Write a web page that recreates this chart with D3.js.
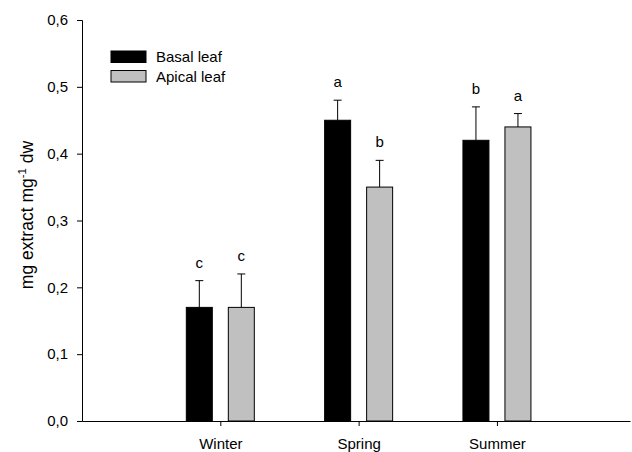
<!DOCTYPE html>
<html>
<head>
<meta charset="utf-8">
<script src="https://cdn.jsdelivr.net/npm/d3@7"></script>
<style>
  body { margin: 0; background: #fff; }
  svg text { font-family: Arial, "Liberation Sans", sans-serif; }
</style>
</head>
<body>
<svg id="chart" width="632" height="452"></svg>
<script>
// ---- data ----
const categories = ["Winter", "Spring", "Summer"];
const seriesNames = ["Basal leaf", "Apical leaf"];
const basalValues = [0.17, 0.45, 0.42];
const basalErrors = [0.04, 0.03, 0.05];
const basalLetters = ["c", "a", "b"];
const apicalValues = [0.17, 0.35, 0.44];
const apicalErrors = [0.05, 0.04, 0.02];
const apicalLetters = ["c", "b", "a"];
const yTicks = [0, 0.1, 0.2, 0.3, 0.4, 0.5, 0.6];

const svg = d3.select("#chart");
const fontSize = 15;

// scales
const x = d3.scaleLinear().domain([0, 3.962]).range([82, 630]);
const y = d3.scaleLinear().domain([0, 0.6]).range([421, 20]);

const series = [
  { name: seriesNames[0], values: basalValues, errors: basalErrors, letters: basalLetters, fill: "#000000", offset: -21 },
  { name: seriesNames[1], values: apicalValues, errors: apicalErrors, letters: apicalLetters, fill: "#c0c0c0", offset: 21 }
];
const barW = 26;

// bars, error bars, letters
series.forEach(s => {
  const g = svg.append("g");
  const data = categories.map((c, i) => ({ i, v: s.values[i], e: s.errors[i], l: s.letters[i] }));
  g.selectAll("line.err").data(data).join("line")
    .attr("x1", d => x(d.i + 1) + s.offset).attr("x2", d => x(d.i + 1) + s.offset)
    .attr("y1", d => y(d.v)).attr("y2", d => y(d.v + d.e))
    .attr("stroke", "#000").attr("stroke-width", 1);
  g.selectAll("line.cap").data(data).join("line")
    .attr("x1", d => x(d.i + 1) + s.offset - 4).attr("x2", d => x(d.i + 1) + s.offset + 4)
    .attr("y1", d => y(d.v + d.e)).attr("y2", d => y(d.v + d.e))
    .attr("stroke", "#000").attr("stroke-width", 1);
  g.selectAll("rect").data(data).join("rect")
    .attr("x", d => x(d.i + 1) + s.offset - barW / 2)
    .attr("y", d => y(d.v))
    .attr("width", barW)
    .attr("height", d => y(0) - y(d.v))
    .attr("fill", s.fill)
    .attr("stroke", "#000").attr("stroke-width", 1);
  g.selectAll("text").data(data).join("text")
    .attr("x", d => x(d.i + 1) + s.offset)
    .attr("y", d => y(d.v + d.e) - 13)
    .attr("text-anchor", "middle")
    .attr("font-size", fontSize)
    .text(d => d.l);
});

// y axis
const yAxis = svg.append("g")
  .attr("transform", "translate(82,0)")
  .call(d3.axisLeft(y).tickValues(yTicks).tickSize(5).tickPadding(9)
    .tickFormat(d => d3.format(".1f")(d).replace(".", ",")));
yAxis.selectAll("text").attr("font-size", fontSize).attr("fill", "#000")
  .style("font-family", "Arial, 'Liberation Sans', sans-serif");
yAxis.selectAll("path, line").attr("stroke", "#000");

// x axis
const xAxis = svg.append("g")
  .attr("transform", "translate(0,421)")
  .call(d3.axisBottom(x).tickValues([1, 2, 3]).tickSize(5).tickSizeOuter(0).tickPadding(12)
    .tickFormat(d => categories[d - 1]));
xAxis.selectAll("text").attr("font-size", fontSize).attr("fill", "#000")
  .style("font-family", "Arial, 'Liberation Sans', sans-serif");
xAxis.selectAll("path, line").attr("stroke", "#000");

// y axis title
const title = svg.append("text")
  .attr("transform", "translate(33,215) rotate(-90)")
  .attr("text-anchor", "middle")
  .attr("font-size", 17.5);
title.append("tspan").text("mg extract mg");
title.append("tspan").attr("font-size", 11.5).attr("dy", -7).text("-1");
title.append("tspan").attr("dy", 7).text(" dw");

// legend
const legend = svg.append("g");
series.forEach((s, i) => {
  legend.append("rect")
    .attr("x", 111).attr("y", 51 + i * 19.5)
    .attr("width", 35).attr("height", 11.5)
    .attr("fill", s.fill).attr("stroke", "#000").attr("stroke-width", 1);
  legend.append("text")
    .attr("x", 156).attr("y", 62 + i * 19.5)
    .attr("font-size", fontSize)
    .text(s.name);
});
</script>
</body>
</html>
